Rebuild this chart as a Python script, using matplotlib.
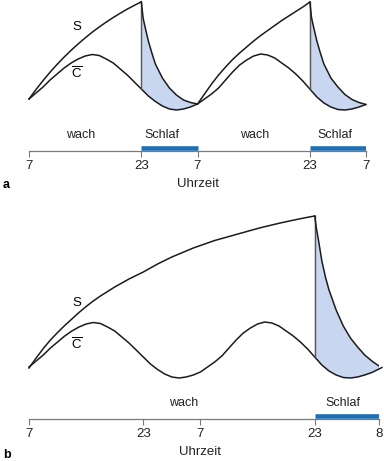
import matplotlib

matplotlib.use("Agg")
import matplotlib.pyplot as plt
import numpy as np

plt.rcParams["font.family"] = ["Liberation Sans", "DejaVu Sans"]
plt.rcParams["mathtext.fontset"] = "custom"
plt.rcParams["mathtext.rm"] = "Liberation Sans"

# hours after 7 Uhr; process levels in arbitrary units
c_hours = list(range(50)) + [49.4]
c_vals = [12, 18, 24, 31, 37, 43, 48, 52, 55, 56.5, 55.5, 52, 48, 42, 36, 29, 22, 15, 9.5, 5,
          2, 1, 2, 4, 7, 12, 17, 23, 31, 39, 46, 51, 55, 57, 56, 53, 48, 43, 37, 30,
          22, 14, 8, 4, 1.5, 1, 2, 4, 6.5, 10, 11.5]

# panel a: S rises while awake, falls during sleep
s_a_rise1 = [12, 21.5, 30.4, 38.8, 46.6, 53.9, 60.7, 67.1, 73.1, 78.8, 84.0, 88.9, 93.5, 97.8,
             101.9, 105.6, 109.2]
s_a_fall_hours1 = [16, 16.25, 16.5, 17, 17.5, 18, 19, 20, 21, 22, 23, 24]
s_a_fall1 = [109.2, 93, 85, 70, 58, 47, 33, 23, 16, 11, 8.5, 7]
s_a_rise2 = [7, 17, 27, 36, 44, 51.5, 58, 64, 70, 75.5, 80.5, 85.5, 90.5, 95, 99.5, 104, 109]
s_a_fall_hours2 = [40, 40.25, 40.5, 41, 41.5, 42, 43, 44, 45, 46, 47, 48]
s_a_fall2 = [109, 93, 85, 70, 58, 47, 33, 24, 16.5, 11.5, 8.5, 6.5]

# panel b: sleep deprivation, one long waking period
s_b_rise = [11, 21, 30.5, 39, 46.5, 53.5, 60, 66.5, 72.5, 78, 83, 87.5, 92, 96, 100, 103.5,
            107, 111, 115, 118.5, 122, 125, 128, 131, 133.5, 136, 138.5, 140.5, 142.5, 144.5,
            146.5, 148.5, 150.5, 152.3, 154, 155.7, 157.3, 158.8, 160.3, 161.7, 163]
s_b_fall_hours = [40, 40.25, 40.5, 41, 41.5, 42, 43, 44, 45, 46, 47, 48, 49, 49.4]
s_b_fall = [163, 150, 140, 118, 102, 89, 69, 53, 41, 32, 24, 18, 13, 11.5]

ticks_a = [0, 16, 24, 40, 48]
tick_labels_a = ["7", "23", "7", "23", "7"]
sleep_a = [(16, 24), (40, 48)]
ticks_b = [0, 16, 24, 40, 49]
tick_labels_b = ["7", "23", "7", "23", "8"]
sleep_b = [(40, 49)]

LINE = "#1c1c1c"
FILL = "#c8d6ef"
BLUE = "#1a6fb6"
GREY = "#7a7a7a"
W, H = 384, 461

fig = plt.figure(figsize=(W / 100, H / 100), dpi=100)


def px_axes(left, top, right, bottom):
    ax = fig.add_axes([left / W, 1 - bottom / H, (right - left) / W, (bottom - top) / H])
    ax.set_facecolor("none")
    return ax


def draw_curves(ax, hours_c, vals_c, segments, drops):
    ax.plot(hours_c, vals_c, color=LINE, lw=1.1, clip_on=False)
    for hrs, vals in segments:
        ax.plot(hrs, vals, color=LINE, lw=1.1, clip_on=False)
    c = dict(zip(hours_c, vals_c))
    for hrs, vals in drops:
        start, end = hrs[0], hrs[-1]
        c_h = [h for h in hours_c if start <= h <= end]
        c_v = [c[h] for h in c_h]
        ax.fill(list(hrs) + c_h[::-1], list(vals) + c_v[::-1], color=FILL, lw=0, zorder=0)
        ax.plot([start, start], [vals[0], c[start]], color="#555555", lw=1.0)
    ax.axis("off")


def draw_timeline(ax, ticks, labels, sleeps, xmax, words):
    ax.set_xlim(0, xmax)
    ax.set_ylim(0, 1)
    for side in ["top", "left", "right"]:
        ax.spines[side].set_visible(False)
    ax.spines["bottom"].set_color(GREY)
    ax.spines["bottom"].set_linewidth(0.9)
    ax.set_yticks([])
    ax.set_xticks(ticks)
    ax.set_xticklabels(labels, fontsize=9.5, color="#222222")
    ax.tick_params(axis="x", direction="out", length=4.3, width=0.8, color=GREY, pad=2.5)
    for start, end in sleeps:
        ax.hlines(0.12, start, end, color=BLUE, lw=3.3, capstyle="butt")
    for x, word in words:
        ax.text(x, 0.76, word, ha="center", va="center", fontsize=9, color="#222222")
    ax.text(24, -1.55, "Uhrzeit", ha="center", va="center", fontsize=9.5, color="#222222")


# panel a
ax_a = px_axes(29, 0, 366, 115)
ax_a.set_xlim(0, 48)
ax_a.set_ylim(-4, 111)
draw_curves(
    ax_a,
    c_hours[:49],
    c_vals[:49],
    [(list(range(17)), s_a_rise1), (list(range(24, 41)), s_a_rise2)],
    [(s_a_fall_hours1, s_a_fall1), (s_a_fall_hours2, s_a_fall2)],
)
ax_a.plot(s_a_fall_hours1, s_a_fall1, color=LINE, lw=1.1)
ax_a.plot(s_a_fall_hours2, s_a_fall2, color=LINE, lw=1.1)
ax_a.text(6.8, 84, "S", ha="center", va="center", fontsize=9.5)
ax_a.text(6.8, 37, r"$\overline{\mathrm{C}}$", ha="center", va="center", fontsize=9.5)

tl_a = px_axes(29, 130, 366, 151)
draw_timeline(tl_a, ticks_a, tick_labels_a, sleep_a, 48,
              [(7.4, "wach"), (19.0, "Schlaf"), (32.2, "wach"), (43.6, "Schlaf")])

# panel b
ax_b = px_axes(29, 205, 379, 385)
ax_b.set_xlim(0, 49)
ax_b.set_ylim(-6, 174)
draw_curves(
    ax_b,
    c_hours,
    c_vals,
    [(list(range(41)), s_b_rise)],
    [(s_b_fall_hours, s_b_fall)],
)
ax_b.plot(s_b_fall_hours, s_b_fall, color=LINE, lw=1.1)
ax_b.text(6.7, 76, "S", ha="center", va="center", fontsize=9.5)
ax_b.text(6.7, 34, r"$\overline{\mathrm{C}}$", ha="center", va="center", fontsize=9.5)

tl_b = px_axes(29, 398, 379, 419)
draw_timeline(tl_b, ticks_b, tick_labels_b, sleep_b, 49, [(21.7, "wach"), (43.9, "Schlaf")])

fig.text(3 / W, 1 - 185 / H, "a", fontsize=9, fontweight="bold", ha="left", va="center")
fig.text(3 / W, 1 - 455 / H, "b", fontsize=9, fontweight="bold", ha="left", va="center")

fig.savefig("out.png", dpi=100)
